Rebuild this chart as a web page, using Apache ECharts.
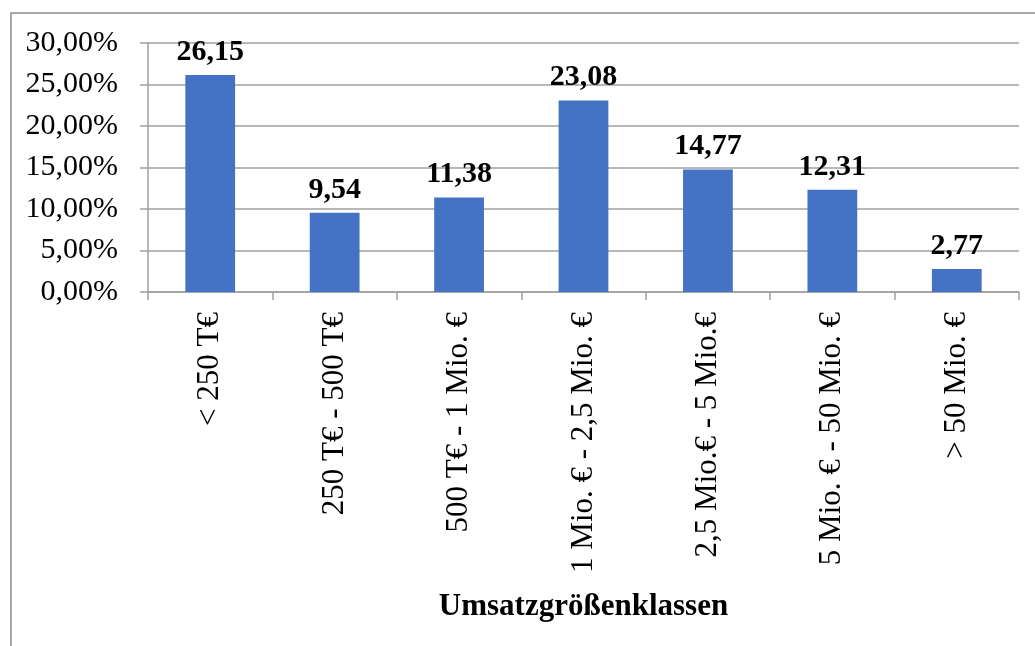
<!DOCTYPE html>
<html>
<head>
<meta charset="utf-8">
<script src="https://cdn.jsdelivr.net/npm/echarts@6/dist/echarts.min.js"></script>
<style>html,body{margin:0;padding:0;background:#fff;}#c{width:1035px;height:646px;}</style>
</head>
<body>
<div id="c"></div>
<script>
const categories = ["< 250 T€", "250 T€ - 500 T€", "500 T€ - 1 Mio. €", "1 Mio. € - 2,5 Mio. €", "2,5 Mio.€ - 5 Mio.€", "5 Mio. € - 50 Mio. €", "> 50 Mio. €"];
const values = [26.15, 9.54, 11.38, 23.08, 14.77, 12.31, 2.77];
const yTicks = [0, 5, 10, 15, 20, 25, 30];
const axisTitle = "Umsatzgrößenklassen";

const FONT = "'Liberation Serif', 'Times New Roman', serif";
const chart = echarts.init(document.getElementById('c'), null, {renderer: 'canvas'});
chart.setOption({
  animation: false,
  backgroundColor: '#ffffff',
  graphic: [{
    type: 'polyline',
    shape: {points: [[11, 646], [11, 13], [1035, 13]]},
    style: {stroke: '#8c8c8c', lineWidth: 1.5, fill: null},
    silent: true
  }],
  grid: {left: 148, right: 16, top: 43, bottom: 354, containLabel: false},
  xAxis: {
    type: 'category',
    data: categories,
    boundaryGap: true,
    name: axisTitle,
    nameLocation: 'middle',
    nameGap: 299,
    nameTextStyle: {fontFamily: FONT, fontSize: 31, fontWeight: 'bold', color: '#000', verticalAlign: 'top'},
    axisLine: {show: true, lineStyle: {color: '#a0a0a0', width: 1.5}},
    axisTick: {show: true, length: 8, lineStyle: {color: '#a0a0a0', width: 1.5}},
    axisLabel: {rotate: 90, interval: 0, margin: 20, fontFamily: FONT, fontSize: 31, color: '#000'},
    splitLine: {show: false}
  },
  yAxis: {
    type: 'value',
    min: yTicks[0],
    max: yTicks[yTicks.length - 1],
    interval: 5,
    axisLine: {show: true, lineStyle: {color: '#a0a0a0', width: 1.5}},
    axisTick: {show: true, length: 8, lineStyle: {color: '#a0a0a0', width: 1.5}},
    axisLabel: {
      margin: 30, fontFamily: FONT, fontSize: 30, color: '#000',
      formatter: v => v.toFixed(2).replace('.', ',') + '%'
    },
    splitLine: {show: true, lineStyle: {color: '#a0a0a0', width: 1.5}}
  },
  series: [{
    type: 'bar',
    data: values,
    barWidth: '40%',
    itemStyle: {color: '#4472C4'},
    label: {
      show: true, position: 'top', distance: 8,
      fontFamily: FONT, fontSize: 30, fontWeight: 'bold', color: '#000',
      formatter: p => p.value.toFixed(2).replace('.', ',')
    }
  }]
});
</script>
</body>
</html>
